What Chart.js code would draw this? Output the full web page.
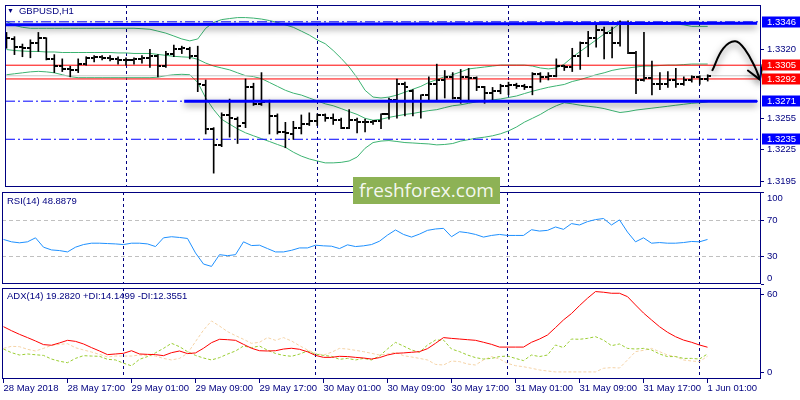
<!DOCTYPE html>
<html>
<head>
<meta charset="utf-8">
<title>GBPUSD,H1</title>
<script src="https://cdn.jsdelivr.net/npm/chart.js@4.4.1/dist/chart.umd.min.js"></script>
<style>
  html, body { margin: 0; padding: 0; background: #fff; }
  body { position: relative; width: 800px; height: 400px; overflow: hidden; font-family: "Liberation Sans", Arial, sans-serif; }
  canvas { position: absolute; left: 0; }
  .tag { position: absolute; left: 7px; font-size: 9.5px; line-height: 11px; color: #000080; white-space: nowrap; z-index: 5; }
  .tri { font-size: 7px; margin-right: 5px; vertical-align: 1px; }
  #brand { position: absolute; left: 353px; top: 177px; width: 147px; height: 27px; background: #8db255; color: rgba(255,255,255,0.92);
           font: 19px/27px "Open Sans", sans-serif; text-align: center; z-index: 6; }
</style>
</head>
<body>
<canvas id="price" width="800" height="192" style="top:0px"></canvas>
<canvas id="rsi" width="800" height="104" style="top:186px"></canvas>
<canvas id="adx" width="800" height="118" style="top:282px"></canvas>
<div class="tag" style="top:5px"><span class="tri">▼</span>GBPUSD,H1</div>
<div class="tag" style="top:195px">RSI(14) 48.8879</div>
<div class="tag" style="top:290px">ADX(14) 19.2820 +DI:14.1499 -DI:12.3551</div>
<div id="brand">freshforex.com</div>
<script>
const NAVY = '#000080';
const FONT = '"Liberation Sans", Arial, sans-serif';
Chart.defaults.font.family = FONT;
Chart.defaults.font.size = 9.5;
Chart.defaults.color = NAVY;

// one bar per hour, bar 0 = 28 May 09:00
const xLabels = ['28 May 2018', '28 May 17:00', '29 May 01:00', '29 May 09:00', '29 May 17:00', '30 May 01:00',
                 '30 May 09:00', '30 May 17:00', '31 May 01:00', '31 May 09:00', '31 May 17:00', '1 Jun 01:00'];
const xLabelBars = [0, 8, 16, 24, 32, 40, 48, 56, 64, 72, 80, 88];
const daySplits = [15, 39, 63, 87];
const xMin = -0.1875, xMax = 94.6875;

const barOpen = [1.3333,1.3330,1.3322,1.3321,1.3326,1.3331,1.3311,1.3304,1.3301,1.3300,
  1.3306,1.3312,1.3313,1.3312,1.3311,1.3310,1.3310,1.3311,1.3312,1.3314,
  1.3304,1.3316,1.3320,1.3320,1.3314,1.3286,1.3245,1.3230,1.3258,1.3254,
  1.3250,1.3284,1.3268,1.3271,1.3257,1.3242,1.3240,1.3246,1.3249,1.3252,
  1.3258,1.3255,1.3253,1.3246,1.3253,1.3251,1.3251,1.3252,1.3259,1.3272,
  1.3287,1.3281,1.3271,1.3277,1.3287,1.3291,1.3294,1.3274,1.3294,1.3293,
  1.3284,1.3279,1.3281,1.3285,1.3286,1.3285,1.3284,1.3297,1.3294,1.3295,
  1.3304,1.3303,1.3314,1.3326,1.3331,1.3338,1.3335,1.3326,1.3345,1.3317,
  1.3291,1.3293,1.3287,1.3287,1.3291,1.3287,1.3291,1.3294,1.3292];
const barHigh = [1.3336,1.3332,1.3325,1.3329,1.3336,1.3331,1.3315,1.3311,1.3304,1.3311,
  1.3313,1.3314,1.3314,1.3314,1.3313,1.3312,1.3312,1.3314,1.3320,1.3315,
  1.3318,1.3324,1.3323,1.3322,1.3323,1.3291,1.3246,1.3260,1.3273,1.3256,
  1.3292,1.3288,1.3298,1.3272,1.3259,1.3251,1.3252,1.3258,1.3260,1.3259,
  1.3259,1.3259,1.3255,1.3263,1.3255,1.3254,1.3253,1.3259,1.3274,1.3292,
  1.3289,1.3282,1.3277,1.3294,1.3306,1.3300,1.3298,1.3301,1.3302,1.3294,
  1.3285,1.3284,1.3287,1.3289,1.3288,1.3287,1.3298,1.3298,1.3298,1.3311,
  1.3305,1.3321,1.3327,1.3337,1.3344,1.3341,1.3341,1.3347,1.3347,1.3318,
  1.3336,1.3309,1.3298,1.3299,1.3302,1.3294,1.3295,1.3295,1.3296];
const barLow = [1.3321,1.3315,1.3313,1.3312,1.3318,1.3310,1.3298,1.3299,1.3294,1.3298,
  1.3305,1.3308,1.3310,1.3309,1.3306,1.3305,1.3306,1.3307,1.3303,1.3294,
  1.3303,1.3313,1.3316,1.3311,1.3280,1.3240,1.3203,1.3228,1.3237,1.3231,
  1.3246,1.3267,1.3267,1.3240,1.3240,1.3227,1.3235,1.3240,1.3248,1.3248,
  1.3252,1.3249,1.3245,1.3245,1.3241,1.3242,1.3249,1.3245,1.3254,1.3255,
  1.3257,1.3257,1.3255,1.3271,1.3271,1.3274,1.3273,1.3269,1.3272,1.3281,
  1.3269,1.3272,1.3278,1.3277,1.3283,1.3282,1.3277,1.3289,1.3291,1.3294,
  1.3300,1.3299,1.3301,1.3313,1.3322,1.3311,1.3312,1.3323,1.3316,1.3278,
  1.3290,1.3277,1.3282,1.3284,1.3284,1.3286,1.3289,1.3287,1.3290];
const barClose = [1.3331,1.3322,1.3321,1.3326,1.3331,1.3311,1.3304,1.3301,1.3300,1.3306,
  1.3312,1.3313,1.3312,1.3311,1.3310,1.3310,1.3311,1.3312,1.3314,1.3304,
  1.3316,1.3320,1.3321,1.3314,1.3287,1.3245,1.3230,1.3258,1.3255,1.3248,
  1.3284,1.3268,1.3270,1.3257,1.3242,1.3241,1.3246,1.3249,1.3252,1.3258,
  1.3255,1.3253,1.3246,1.3253,1.3251,1.3251,1.3252,1.3259,1.3272,1.3287,
  1.3284,1.3271,1.3277,1.3287,1.3291,1.3294,1.3274,1.3294,1.3293,1.3284,
  1.3279,1.3281,1.3285,1.3286,1.3285,1.3284,1.3297,1.3294,1.3295,1.3304,
  1.3303,1.3314,1.3326,1.3331,1.3338,1.3335,1.3326,1.3345,1.3317,1.3291,
  1.3293,1.3287,1.3287,1.3291,1.3287,1.3291,1.3294,1.3292,1.3295];

// Bollinger bands
const bbUpper = [1.33463,1.33427,1.33408,1.33399,1.33399,1.33399,1.33399,1.33399,1.33399,1.33399,
  1.33399,1.33399,1.33399,1.33399,1.33399,1.33399,1.33399,1.33395,1.33390,1.33372,
  1.33353,1.33326,1.33298,1.33280,1.33298,1.33399,1.33454,1.33481,1.33491,1.33500,
  1.33500,1.33495,1.33486,1.33472,1.33454,1.33431,1.33408,1.33372,1.33335,1.33289,
  1.33253,1.33189,1.33115,1.33033,1.32932,1.32813,1.32749,1.32740,1.32749,1.32768,
  1.32795,1.32823,1.32850,1.32887,1.32914,1.32942,1.32960,1.32987,1.33015,1.33024,
  1.33033,1.33042,1.33051,1.33051,1.33051,1.33051,1.33042,1.33024,1.33015,1.33024,
  1.33061,1.33125,1.33180,1.33234,1.33289,1.33344,1.33390,1.33445,1.33445,1.33445,
  1.33445,1.33445,1.33445,1.33445,1.33440,1.33431,1.33417,1.33417,1.33417];
const bbMiddle = [1.33198,1.33189,1.33184,1.33180,1.33180,1.33175,1.33175,1.33170,1.33170,1.33170,
  1.33170,1.33170,1.33170,1.33170,1.33166,1.33166,1.33161,1.33161,1.33161,1.33152,
  1.33143,1.33134,1.33129,1.33125,1.33106,1.33070,1.33042,1.33024,1.33006,1.32978,
  1.32951,1.32942,1.32923,1.32887,1.32850,1.32813,1.32786,1.32768,1.32740,1.32713,
  1.32685,1.32667,1.32640,1.32612,1.32585,1.32548,1.32530,1.32539,1.32557,1.32571,
  1.32585,1.32594,1.32608,1.32621,1.32630,1.32649,1.32667,1.32676,1.32690,1.32704,
  1.32713,1.32722,1.32731,1.32745,1.32759,1.32782,1.32804,1.32823,1.32841,1.32855,
  1.32868,1.32896,1.32914,1.32937,1.32960,1.32978,1.33001,1.33015,1.33024,1.33033,
  1.33042,1.33042,1.33047,1.33051,1.33051,1.33056,1.33061,1.33061,1.33061];
const bbLower = [1.32960,1.32969,1.32978,1.32987,1.32992,1.32987,1.32978,1.32960,1.32942,1.32932,
  1.32932,1.32932,1.32932,1.32932,1.32932,1.32932,1.32932,1.32932,1.32932,1.32937,
  1.32951,1.32960,1.32964,1.32960,1.32887,1.32740,1.32630,1.32539,1.32493,1.32448,
  1.32411,1.32383,1.32356,1.32329,1.32301,1.32274,1.32228,1.32191,1.32164,1.32145,
  1.32127,1.32127,1.32132,1.32145,1.32182,1.32265,1.32319,1.32333,1.32338,1.32329,
  1.32319,1.32315,1.32310,1.32306,1.32297,1.32301,1.32310,1.32333,1.32347,1.32361,
  1.32370,1.32383,1.32402,1.32429,1.32466,1.32512,1.32548,1.32585,1.32630,1.32667,
  1.32695,1.32685,1.32672,1.32662,1.32653,1.32640,1.32621,1.32603,1.32612,1.32626,
  1.32635,1.32644,1.32653,1.32662,1.32672,1.32681,1.32690,1.32695,1.32704];

const priceTicks = [1.3195, 1.3225, 1.3255, 1.3320];
const blueLevels = [1.3346, 1.3271, 1.3235];
const redLevels = [1.3305, 1.3292];
const bidLevel = 1.3295;
// hand drawn support / resistance lines
const trendStartX = [xMin, 22.3];
const trendEndX = [94.2, 94.2];
const trendStartY = [1.33432, 1.3271];
const trendEndY = [1.33446, 1.3271];
const arrowX = [88.55, 89.96, 91.46, 92.71, 93.96, 94.55];
const arrowY = [1.32996, 1.33210, 1.33277, 1.33195, 1.33027, 1.32914];

const rsiValues = [48.9,46.3,45.2,46.3,50.7,40.4,37.4,36.7,35.2,40.4,
  43.3,44.8,44.8,44.4,44.0,43.3,44.8,44.8,44.0,41.1,
  50.7,51.9,51.1,50.0,34.1,21.9,19.3,32.2,31.1,32.2,
  46.3,42.2,42.6,38.9,35.2,35.2,37.0,39.6,39.6,42.6,
  41.9,41.5,38.9,43.0,41.1,41.9,43.3,47.0,53.7,59.3,
  54.4,51.5,54.8,58.9,60.4,61.1,51.9,57.4,56.3,54.4,
  51.5,53.3,54.4,53.3,53.3,53.3,59.6,58.1,58.9,62.6,
  60.0,66.3,64.8,68.5,70.7,71.9,64.8,70.4,57.0,46.3,
  50.7,44.8,45.5,44.8,44.8,45.5,46.7,46.3,48.9];
const rsiTicks = [0, 30, 70, 100];
const rsiLevels = [30, 70];

const adxValues = [35.1,32.0,29.2,26.7,24.1,21.3,20.8,22.6,24.6,23.8,
  21.8,19.0,16.4,13.6,14.1,14.6,16.6,14.1,13.8,13.6,
  12.8,15.1,16.4,14.4,14.9,18.5,22.8,25.4,25.1,24.6,
  21.5,18.5,16.6,16.4,16.6,17.9,18.5,17.7,15.8,13.0,
  11.5,11.5,12.3,12.1,11.5,11.0,10.2,11.3,13.3,14.6,
  14.9,15.4,15.9,18.2,22.3,26.7,26.1,25.6,25.1,24.6,
  23.1,21.5,19.4,19.4,19.4,19.4,23.1,25.6,28.7,34.4,
  40.3,45.2,51.3,57.0,62.1,61.6,60.8,60.8,58.2,51.8,
  45.6,40.3,35.1,30.8,27.4,24.8,23.1,21.0,19.3];
const plusDI = [17.9,15.1,13.3,14.1,13.5,13.0,10.2,8.5,7.4,10.7,
  12.8,12.5,12.3,10.0,9.5,7.0,5.0,10.0,12.1,15.0,
  18.4,22.3,19.7,15.9,13.0,11.0,9.5,11.3,14.0,16.4,
  20.2,19.0,20.2,17.0,14.5,13.0,12.3,14.0,16.4,14.0,
  13.0,12.3,10.0,10.7,9.5,10.7,9.5,12.5,18.0,23.0,
  20.2,17.2,15.4,21.0,24.8,24.8,17.9,15.9,13.3,11.3,
  10.2,10.7,12.1,12.5,10.7,9.0,13.3,12.1,13.3,21.0,
  19.0,25.6,25.4,26.1,27.4,24.8,20.5,21.8,18.4,17.9,
  18.4,17.2,14.1,12.1,12.1,10.7,10.7,10.2,14.1];
const minusDI = [18.4,20.0,19.7,17.7,16.4,18.4,20.7,21.5,22.0,18.9,
  17.2,15.6,13.8,11.8,12.5,12.5,12.5,13.3,13.0,12.5,
  10.7,9.5,10.7,14.6,23.6,32.5,39.5,35.6,31.3,28.2,
  25.4,22.3,23.1,26.7,24.6,26.7,24.1,20.5,17.2,14.6,
  13.3,15.4,18.4,17.9,16.9,15.9,14.6,13.3,14.1,15.4,
  12.8,11.8,10.7,9.5,6.1,5.6,8.7,8.2,6.4,5.6,
  9.5,12.1,10.2,6.9,5.1,4.3,3.1,1.8,1.0,0.3,
  0.3,0.3,0.3,0.3,0.3,3.1,3.6,3.3,9.5,15.9,
  16.9,18.4,15.9,13.3,12.1,9.5,8.7,8.2,12.4];
const adxTicks = [0, 60];

const pts = ys => ys.map((y, i) => ({ x: i, y }));
const hline = (v, from = xMin, to = xMax) => [{ x: from, y: v }, { x: to, y: v }];

// small open / close ticks used as point images
function makeTick(left) {
  const c = document.createElement('canvas');
  c.width = 7; c.height = 2;
  const g = c.getContext('2d');
  g.fillStyle = '#000';
  g.fillRect(left ? 0 : 4, 0, 3, 2);
  return c;
}
const openTick = makeTick(true);
const closeTick = makeTick(false);

// navy box round each pane
const frame = {
  id: 'frame',
  afterDraw(chart) {
    const { ctx, chartArea: a } = chart;
    ctx.save();
    ctx.strokeStyle = NAVY;
    ctx.lineWidth = 1;
    ctx.strokeRect(Math.round(a.left) + 0.5, Math.round(a.top) + 0.5,
                   Math.round(a.right - a.left) - 1, Math.round(a.bottom - a.top) - 1);
    ctx.restore();
  }
};

// dashed day separators
const separators = {
  id: 'separators',
  beforeDatasetsDraw(chart) {
    const { ctx, chartArea: a, scales: { x } } = chart;
    ctx.save();
    ctx.strokeStyle = NAVY;
    ctx.lineWidth = 1;
    ctx.setLineDash([3, 3]);
    daySplits.forEach(i => {
      const px = Math.floor(x.getPixelForValue(i)) + 0.5;
      ctx.beginPath();
      ctx.moveTo(px, a.top);
      ctx.lineTo(px, a.bottom);
      ctx.stroke();
    });
    ctx.restore();
  }
};

// drop shadow for the hand drawn lines + arrow head
const shadows = {
  id: 'shadows',
  beforeDatasetDraw(chart, args) {
    const ds = chart.data.datasets[args.index];
    if (!ds.shadow) return;
    const ctx = chart.ctx;
    ctx.save();
    ctx.shadowColor = 'rgba(0,0,0,0.55)';
    ctx.shadowBlur = 7;
    ctx.shadowOffsetY = 3;
  },
  afterDatasetDraw(chart, args) {
    const ds = chart.data.datasets[args.index];
    if (!ds.shadow) return;
    const ctx = chart.ctx;
    if (ds.arrowHead) {
      const p = chart.getDatasetMeta(args.index).data;
      const tip = p[p.length - 1];
      const ang = Math.atan2(tip.y - tip.cp1y, tip.x - tip.cp1x);
      ctx.strokeStyle = ds.borderColor;
      ctx.lineWidth = ds.borderWidth;
      ctx.lineCap = 'round';
      ctx.beginPath();
      [-0.55, 0.55].forEach(d => {
        ctx.moveTo(tip.x, tip.y);
        ctx.lineTo(tip.x - 15 * Math.cos(ang + d), tip.y - 15 * Math.sin(ang + d));
      });
      ctx.stroke();
    }
    ctx.restore();
  }
};

// coloured price tags on the right axis
const tagLevels = blueLevels.map(v => ({ v, c: '#0000ff' })).concat(redLevels.map(v => ({ v, c: '#ff0000' })));
const levelTags = {
  id: 'levelTags',
  afterDraw(chart) {
    const { ctx, chartArea: a, scales: { y } } = chart;
    ctx.save();
    ctx.font = '9.5px ' + FONT;
    ctx.textBaseline = 'middle';
    tagLevels.forEach(t => {
      const py = Math.round(y.getPixelForValue(t.v));
      ctx.fillStyle = t.c;
      ctx.fillRect(a.right + 1, py - 5.5, 38, 11);
      ctx.fillStyle = '#fff';
      ctx.fillText(t.v.toFixed(4), a.right + 6, py + 0.5);
    });
    ctx.restore();
  }
};

const noPad = s => { s.paddingTop = 0; s.paddingBottom = 0; s.paddingLeft = 0; s.paddingRight = 0; };

function hiddenX() {
  return { type: 'linear', min: xMin, max: xMax, offset: false, display: false };
}

function rightY(min, max, ticks, cb, extra) {
  return Object.assign({
    type: 'linear', position: 'right', min, max,
    afterBuildTicks: s => { s.ticks = ticks.map(v => ({ value: v })); },
    afterFit: s => { s.width = 39; noPad(s); },
    ticks: { padding: 3, color: NAVY, callback: cb },
    grid: { drawOnChartArea: false, drawTicks: true, tickLength: 3, color: NAVY },
    border: { display: false }
  }, extra || {});
}

const base = {
  responsive: false,
  animation: false,
  events: [],
  plugins: { legend: { display: false }, tooltip: { enabled: false } },
  elements: { point: { radius: 0 }, line: { borderWidth: 1, tension: 0 } }
};

// price pane
new Chart(document.getElementById('price'), {
  type: 'line',
  data: {
    datasets: [
      { data: arrowX.map((x, i) => ({ x, y: arrowY[i] })), borderColor: '#000', borderWidth: 2, tension: 0.4,
        shadow: true, arrowHead: true, order: 0 },
      ...trendStartX.map((x0, k) => ({
        data: [{ x: x0, y: trendStartY[k] }, { x: trendEndX[k], y: trendEndY[k] }],
        borderColor: '#0000ff', borderWidth: 3, shadow: true, order: 1 })),
      { type: 'bar', data: barHigh.map((h, i) => ({ x: i, y: [barLow[i], h] })), backgroundColor: '#000',
        borderWidth: 0, barThickness: 1, order: 2 },
      { data: pts(barOpen), showLine: false, pointRadius: 1, pointStyle: openTick, order: 2 },
      { data: pts(barClose), showLine: false, pointRadius: 1, pointStyle: closeTick, order: 2 },
      ...blueLevels.map(v => ({ data: hline(v), borderColor: '#0000ff', borderDash: [10, 3, 2, 3], order: 3 })),
      ...redLevels.map(v => ({ data: hline(v), borderColor: '#ff0000', order: 4 })),
      { data: hline(bidLevel), borderColor: '#c8c8c8', order: 5 },
      { data: pts(bbUpper), borderColor: '#3cb371', order: 6 },
      { data: pts(bbMiddle), borderColor: '#3cb371', order: 6 },
      { data: pts(bbLower), borderColor: '#3cb371', order: 6 }
    ]
  },
  options: Object.assign({}, base, {
    layout: { padding: { left: 2, right: 0, top: 2, bottom: 2 } },
    scales: {
      x: hiddenX(),
      y: rightY(1.31899, 1.33619, priceTicks, v => v.toFixed(4))
    }
  }),
  plugins: [separators, shadows, levelTags, frame]
});

// RSI pane
new Chart(document.getElementById('rsi'), {
  type: 'line',
  data: { datasets: [{ data: pts(rsiValues), borderColor: '#1e90ff' }] },
  options: Object.assign({}, base, {
    layout: { padding: { left: 2, right: 0, top: 6, bottom: 6 } },
    scales: {
      x: hiddenX(),
      y: rightY(0, 101, rsiTicks, v => v === 100 ? ['', '100'] : v === 0 ? ['0', ''] : String(v), {
        grid: {
          drawOnChartArea: true, drawTicks: true, tickLength: 3, tickColor: NAVY, tickBorderDash: [],
          color: c => (c.tick && rsiLevels.includes(c.tick.value)) ? '#c0c0c0' : 'rgba(0,0,0,0)'
        },
        border: { display: false, dash: [4, 3] }
      })
    }
  }),
  plugins: [separators, frame]
});

// ADX pane with the time axis
new Chart(document.getElementById('adx'), {
  type: 'line',
  data: {
    datasets: [
      { data: pts(adxValues), borderColor: '#ff0000' },
      { data: pts(plusDI), borderColor: '#9acd32', borderDash: [3, 2] },
      { data: pts(minusDI), borderColor: '#f5d3a6', borderDash: [3, 2] }
    ]
  },
  options: Object.assign({}, base, {
    layout: { padding: { left: 2, right: 0, top: 6, bottom: 0 } },
    scales: {
      x: {
        type: 'linear', min: xMin, max: xMax, offset: false, position: 'bottom',
        afterBuildTicks: s => { s.ticks = xLabelBars.map(v => ({ value: v })); },
        afterFit: s => { s.height = 21; noPad(s); },
        ticks: { autoSkip: false, maxRotation: 0, minRotation: 0, align: 'start', padding: 0, color: NAVY,
                 callback: (v, i) => xLabels[i] },
        grid: { drawOnChartArea: false, drawTicks: true, tickLength: 4, color: NAVY },
        border: { display: false }
      },
      y: rightY(-5.15, 64.85, adxTicks, v => String(v))
    }
  }),
  plugins: [separators, frame]
});
</script>
</body>
</html>
